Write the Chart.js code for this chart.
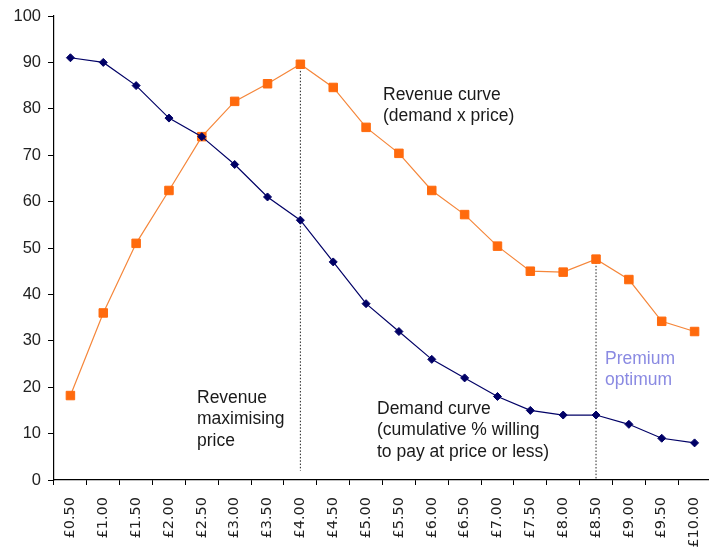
<!DOCTYPE html>
<html>
<head>
<meta charset="utf-8">
<script src="https://cdn.jsdelivr.net/npm/chart.js@4.4.1/dist/chart.umd.min.js"></script>
<style>
  html, body { margin: 0; padding: 0; background: #fff; overflow: hidden; }
  #wrap { width: 709px; height: 552px; overflow: hidden; }
</style>
</head>
<body>
<div id="wrap"><canvas id="c" width="718" height="552"></canvas></div>
<script>
// ---- Data ----
const prices = ['£0.50','£1.00','£1.50','£2.00','£2.50','£3.00','£3.50','£4.00','£4.50','£5.00',
                '£5.50','£6.00','£6.50','£7.00','£7.50','£8.00','£8.50','£9.00','£9.50','£10.00'];
const demand = [91, 90, 85, 78, 74, 68, 61, 56, 47, 38, 32, 26, 22, 18, 15, 14, 14, 12, 9, 8];
const revenue = [18.2, 36, 51, 62.4, 74, 81.6, 85.4, 89.6, 84.6, 76, 70.4, 62.4, 57.2, 50.4, 45, 44.8, 47.6, 43.2, 34.2, 32];
const yTicks = [0, 10, 20, 30, 40, 50, 60, 70, 80, 90, 100];
const refPrices = ['£4.00', '£8.50'];
const refTops = [89.6, 47.6];
const refBottoms = [2, 0];

const notes = [
  { lines: ['Revenue curve', '(demand x price)'], x: 383, y: 99.5, color: '#1a1a1a' },
  { lines: ['Revenue', 'maximising', 'price'], x: 197, y: 402.5, color: '#1a1a1a' },
  { lines: ['Demand curve', '(cumulative % willing', 'to pay at price or less)'], x: 377, y: 413.5, color: '#1a1a1a' },
  { lines: ['Premium', 'optimum'], x: 605, y: 363.5, color: '#8a8ae2' }
];

const annotationPlugin = {
  id: 'notes',
  afterDraw(chart) {
    const ctx = chart.ctx;
    ctx.save();
    ctx.font = '17.5px "Liberation Sans", Arial, sans-serif';
    ctx.textAlign = 'left';
    ctx.textBaseline = 'alphabetic';
    notes.forEach(n => {
      ctx.fillStyle = n.color;
      n.lines.forEach((t, i) => ctx.fillText(t, n.x, n.y + i * 21.6));
    });
    ctx.restore();
  }
};

const refDatasets = refPrices.map((p, i) => ({
  label: 'ref' + i,
  data: [{ x: p, y: refTops[i] }, { x: p, y: refBottoms[i] }],
  borderColor: '#222',
  borderWidth: 1,
  borderDash: [1.5, 1.8],
  pointRadius: 0,
  order: 10
}));

new Chart(document.getElementById('c'), {
  type: 'line',
  data: {
    labels: prices,
    datasets: [
      {
        label: 'Demand',
        data: demand,
        borderColor: '#000066',
        backgroundColor: '#000066',
        borderWidth: 1.2,
        pointStyle: 'rectRot',
        pointRadius: 4,
        pointBorderWidth: 1,
        tension: 0,
        order: 1
      },
      {
        label: 'Revenue',
        data: revenue,
        borderColor: '#f5863a',
        backgroundColor: '#ff6a0d',
        pointBorderColor: '#ff6a0d',
        borderWidth: 1.2,
        pointStyle: 'rect',
        pointRadius: 6,
        pointBorderWidth: 1,
        tension: 0,
        order: 2
      },
      ...refDatasets
    ]
  },
  options: {
    responsive: false,
    animation: false,
    layout: { padding: { top: 16, right: 0, left: 0, bottom: 0 } },
    plugins: { legend: { display: false }, tooltip: { enabled: false } },
    scales: {
      x: {
        type: 'category',
        offset: true,
        afterFit(scale) { scale.height = 72; scale.paddingRight = 0; scale.paddingLeft = 0; },
        grid: { offset: true, drawOnChartArea: false, drawTicks: true, tickLength: 5, color: '#000', lineWidth: 1 },
        border: { display: true, color: '#000', width: 1.2 },
        ticks: {
          autoSkip: false,
          maxRotation: 90,
          minRotation: 90,
          padding: 12,
          color: '#222',
          font: { family: '"DejaVu Sans", sans-serif', size: 14.5 }
        }
      },
      y: {
        min: 0,
        max: 100,
        afterFit(scale) { scale.width = 54; scale.paddingTop = 0; scale.paddingBottom = 0; },
        afterBuildTicks(scale) { scale.ticks = yTicks.map(v => ({ value: v })); },
        grid: { drawOnChartArea: false, drawTicks: true, tickLength: 6, color: '#000', lineWidth: 1 },
        border: { display: true, color: '#000', width: 1.2 },
        ticks: {
          padding: 7,
          color: '#222',
          font: { family: '"Liberation Sans", Arial, sans-serif', size: 16.5 }
        }
      }
    }
  },
  plugins: [annotationPlugin]
});
</script>
</body>
</html>
